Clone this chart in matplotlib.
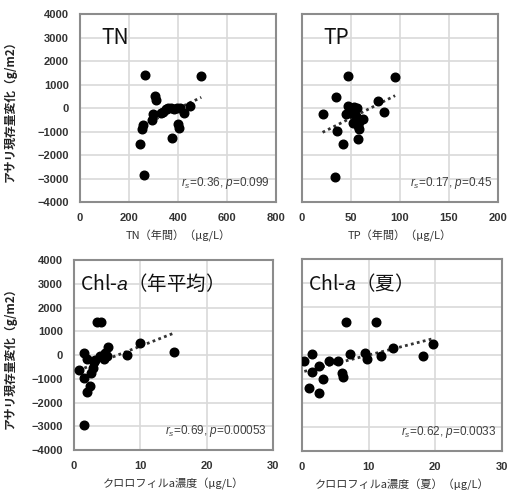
import numpy as np
import matplotlib
matplotlib.use("Agg")
import matplotlib.pyplot as plt

plt.rcParams["font.family"] = "sans-serif"
plt.rcParams["font.sans-serif"] = ["Liberation Sans"]
plt.rcParams["mathtext.fontset"] = "custom"
plt.rcParams["mathtext.it"] = "Liberation Sans:italic"
plt.rcParams["mathtext.rm"] = "Liberation Sans"
JP = ["Noto Sans CJK JP", "Liberation Sans"]

# アサリ現存量変化 vs. water quality (one point per site)
tn_x = [265, 495, 305, 310, 298, 294, 256, 252, 243, 261, 376, 400, 406,
        330, 340, 350, 360, 370, 385, 395, 410, 425, 447]
tn_y = [1400, 1370, 530, 360, -240, -520, -725, -890, -1530, -2850, -1280,
        -660, -860, -230, -150, -50, -20, 0, -30, 20, 0, -230, 100]

tp_x = [47, 95, 35, 21, 47, 53, 56, 45, 50, 62, 55, 52, 57, 58, 78, 84,
        36, 42, 57, 34, 50, 58]
tp_y = [1380, 1340, 480, -240, 70, 30, 0, -250, -200, -450, -350, -630,
        -760, -900, 280, -170, -980, -1550, -1330, -2920, -50, -600]

chl_x = [3.5, 4.0, 0.7, 1.5, 1.5, 1.9, 2.0, 2.4, 2.6, 2.8, 3.0, 3.2, 3.9,
         4.5, 4.7, 4.9, 5.1, 8.0, 10.0, 15.0, 1.5]
chl_y = [1400, 1370, -640, 80, -950, -150, -1550, -1320, -740, -550, -300,
         -230, -30, -150, 100, -60, 350, 20, 520, 110, -2950]

chls_x = [6.55, 11.1, 19.6, 18.1, 13.6, 11.9, 9.4, 9.7, 7.2, 6.0, 6.1, 5.4,
          4.1, 2.5, 1.5, 0.35, 1.5, 3.1, 1.0, 2.5]
chls_y = [1370, 1370, 465, -30, 280, -40, 70, -180, 30, -750, -915, -250,
          -250, -465, 30, -250, -700, -1010, -1370, -1590]

y_ticks = [-4000, -3000, -2000, -1000, 0, 1000, 2000, 3000, 4000]

panels = [
    # data, x ticks, title, stats, xlabel, pixel box (l, t, r, b), y labels
    (tn_x, tn_y, [0, 200, 400, 600, 800], "TN", "$r_s$=0.36, $p$=0.099",
     "TN（年間）（μg/L）", (80, 14, 276, 202), True),
    (tp_x, tp_y, [0, 50, 100, 150, 200], "TP", "$r_s$=0.17, $p$=0.45",
     "TP（年間）（μg/L）", (302, 14, 498, 202), False),
    (chl_x, chl_y, [0, 10, 20, 30], "Chl-$a$（年平均）",
     "$r_s$=0.69, $p$=0.00053", "クロロフィルa濃度（μg/L）",
     (74, 260, 273, 450), True),
    (chls_x, chls_y, [0, 10, 20, 30], "Chl-$a$（夏）",
     "$r_s$=0.62, $p$=0.0033", "クロロフィルa濃度（夏）（μg/L）",
     (302, 259, 502, 451), False),
]

W, H = 509, 490
fig = plt.figure(figsize=(W / 100, H / 100), dpi=100)

for xs, ys, xt, title, stats, xlabel, box, show_y in panels:
    l, t, r, b = box
    ax = fig.add_axes([l / W, 1 - b / H, (r - l) / W, (b - t) / H])
    ax.set_xlim(xt[0], xt[-1])
    ax.set_ylim(-4000, 4000)
    ax.set_xticks(xt)
    ax.set_yticks(y_ticks)
    ax.grid(True, color="#d9d9d9", lw=1.2)
    ax.set_axisbelow(True)
    for s in ax.spines.values():
        s.set_color("#8c8c8c")
        s.set_linewidth(1.5)
    ax.tick_params(length=0, labelsize=8, labelcolor="#333333", pad=8)
    for lab in ax.get_xticklabels() + ax.get_yticklabels():
        lab.set_fontweight("bold")
    if not show_y:
        ax.set_yticklabels([])

    # linear trend over the data range
    slope, icpt = np.polyfit(xs, ys, 1)
    fx = np.array([min(xs), max(xs)])
    ax.plot(fx, slope * fx + icpt, ls=(0, (1, 1.2)), color="#333333",
            lw=2, zorder=2)
    ax.plot(xs, ys, "o", color="black", ms=6.2, zorder=3)

    short = title in ("TN", "TP")
    ax.text(0.11 if short else 0.03, 0.93, title,
            transform=ax.transAxes, fontsize=15 if short else 14,
            va="top", ha="left", family=JP, color="#111111")
    ax.text(0.97, 0.1, stats, transform=ax.transAxes, fontsize=8.5,
            ha="right", va="center", color="#404040")

    fig.text((l + r) / 2 / W, 1 - (b + 34) / H, xlabel, ha="center",
             va="center", fontsize=8, color="#333333", family=JP)
    if show_y:
        fig.text(10 / W, 1 - (t + b) / 2 / H, "アサリ現存量変化（g/m2）",
                 rotation=90, ha="center", va="center", fontsize=8.5,
                 fontweight="bold", family=JP, color="#222222")

fig.savefig("out.png", dpi=100)
